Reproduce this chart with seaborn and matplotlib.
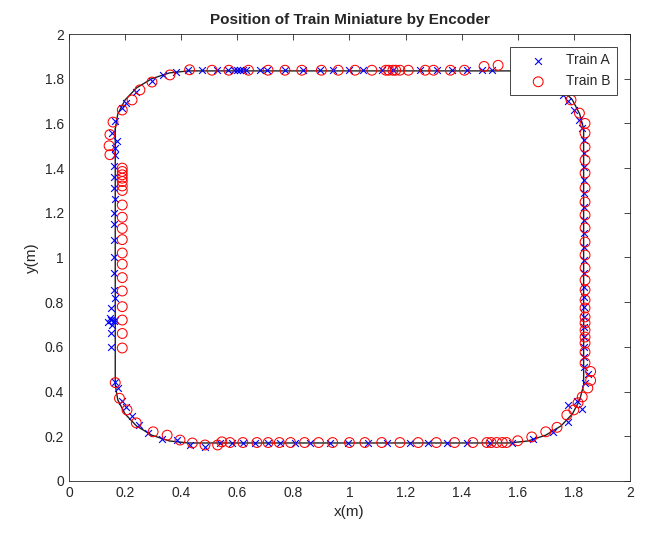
import numpy as np
import pandas as pd
import matplotlib
matplotlib.use("Agg")
import matplotlib.pyplot as plt
from matplotlib.ticker import FormatStrFormatter
import seaborn as sns

# track centre line (rounded rectangle), waypoints in metres
track_x = [0.165, 0.174, 0.200, 0.241, 0.295, 0.358, 0.425,
           1.570, 1.637, 1.700, 1.754, 1.795, 1.821, 1.835,
           1.835, 1.821, 1.795, 1.754, 1.700, 1.637, 1.570,
           0.425, 0.358, 0.295, 0.241, 0.200, 0.174, 0.165, 0.165]
track_y = [1.575, 1.642, 1.705, 1.759, 1.800, 1.826, 1.835,
           1.835, 1.826, 1.800, 1.759, 1.705, 1.642, 1.575,
           0.430, 0.363, 0.300, 0.246, 0.205, 0.179, 0.170,
           0.170, 0.179, 0.205, 0.246, 0.300, 0.363, 0.430, 1.575]

# Train A (encoder positions)
train_a_x = [
    # left side
    0.164, 0.170, 0.153, 0.165, 0.165, 0.160, 0.160, 0.160, 0.165, 0.160,
    0.160, 0.160, 0.160, 0.160, 0.160, 0.165, 0.150, 0.145, 0.150, 0.160,
    0.140, 0.155, 0.165, 0.150, 0.150, 0.165, 0.175,
    # bottom-left corner
    0.190, 0.205, 0.225, 0.250, 0.280, 0.330, 0.385, 0.430, 0.485, 0.540,
    # bottom
    0.580, 0.620, 0.663, 0.710, 0.752, 0.806, 0.860, 0.930, 0.995, 1.066,
    1.134, 1.216, 1.280, 1.348, 1.420, 1.500, 1.580,
    # bottom-right corner
    1.655, 1.725, 1.780, 1.780, 1.810, 1.830, 1.840, 1.850,
    # right side
    1.835, 1.835, 1.835, 1.835, 1.835, 1.835, 1.835, 1.835, 1.835, 1.835,
    1.835, 1.835, 1.835, 1.835, 1.835, 1.835, 1.835, 1.835, 1.835, 1.835,
    1.830,
    # top-right corner
    1.820, 1.800, 1.780, 1.760,
    # top
    1.508, 1.472, 1.419, 1.365, 1.312, 1.251, 1.155, 1.116, 1.048, 1.000,
    0.940, 0.895, 0.834, 0.770, 0.706, 0.680, 0.630, 0.620, 0.610, 0.600,
    0.590, 0.567, 0.527, 0.474, 0.424, 0.380,
    # top-left corner
    0.335, 0.296, 0.240, 0.205, 0.190,
]
train_a_y = [
    1.610, 1.520, 1.557, 1.490, 1.460, 1.410, 1.360, 1.310, 1.260, 1.200,
    1.150, 1.080, 1.000, 0.930, 0.855, 0.820, 0.775, 0.730, 0.720, 0.715,
    0.710, 0.700, 0.720, 0.660, 0.600, 0.445, 0.415,
    0.360, 0.330, 0.290, 0.250, 0.215, 0.190, 0.185, 0.160, 0.152, 0.170,
    0.172, 0.172, 0.172, 0.172, 0.172, 0.172, 0.172, 0.172, 0.172, 0.172,
    0.172, 0.172, 0.172, 0.172, 0.172, 0.172, 0.172,
    0.190, 0.220, 0.265, 0.340, 0.360, 0.320, 0.440, 0.480,
    0.510, 0.555, 0.600, 0.644, 0.689, 0.734, 0.779, 0.823, 0.868, 0.930,
    0.989, 1.047, 1.110, 1.168, 1.226, 1.289, 1.347, 1.405, 1.467, 1.526,
    1.580,
    1.615, 1.660, 1.700, 1.727,
    1.838, 1.838, 1.838, 1.838, 1.838, 1.838, 1.838, 1.838, 1.838, 1.838,
    1.838, 1.838, 1.838, 1.838, 1.838, 1.838, 1.838, 1.838, 1.838, 1.838,
    1.838, 1.838, 1.838, 1.838, 1.838, 1.830,
    1.817, 1.790, 1.740, 1.690, 1.670,
]

# Train B (encoder positions)
train_b_x = [
    # top-left corner
    0.430, 0.360, 0.296, 0.253, 0.225, 0.190, 0.157, 0.146, 0.143, 0.146,
    # left side (offset)
    0.190, 0.190, 0.190, 0.190, 0.190, 0.190, 0.190, 0.190, 0.190, 0.190,
    0.190, 0.190, 0.190, 0.190, 0.190, 0.190, 0.190, 0.190, 0.190,
    # bottom-left corner
    0.165, 0.180, 0.207, 0.240, 0.300, 0.350, 0.396, 0.440, 0.485, 0.530,
    0.545,
    # bottom
    0.574, 0.620, 0.670, 0.710, 0.750, 0.790, 0.840, 0.890, 0.940, 1.000,
    1.055, 1.115, 1.180, 1.245, 1.310, 1.375, 1.440, 1.490, 1.505, 1.525,
    1.545, 1.560,
    # bottom-right corner
    1.600, 1.650, 1.700, 1.740, 1.775, 1.800, 1.815, 1.830, 1.850, 1.860,
    1.860,
    # right side
    1.840, 1.840, 1.840, 1.840, 1.840, 1.840, 1.840, 1.840, 1.840, 1.840,
    1.840, 1.840, 1.840, 1.840, 1.840, 1.840, 1.840, 1.840, 1.840, 1.840,
    1.840, 1.840,
    # top-right corner
    1.840, 1.820, 1.790,
    # top
    1.530, 1.480, 1.410, 1.360, 1.300, 1.270, 1.210, 1.180, 1.165, 1.155,
    1.140, 1.130, 1.080, 1.020, 0.960, 0.900, 0.830, 0.770, 0.710, 0.640,
    0.570, 0.510,
]
train_b_y = [
    1.840, 1.817, 1.785, 1.750, 1.705, 1.660, 1.606, 1.550, 1.500, 1.460,
    1.400, 1.385, 1.370, 1.355, 1.340, 1.320, 1.300, 1.235, 1.180, 1.130,
    1.080, 1.020, 0.970, 0.910, 0.850, 0.780, 0.720, 0.660, 0.595,
    0.440, 0.370, 0.318, 0.260, 0.220, 0.205, 0.183, 0.170, 0.161, 0.161,
    0.175,
    0.172, 0.172, 0.172, 0.172, 0.172, 0.172, 0.172, 0.172, 0.172, 0.172,
    0.172, 0.172, 0.172, 0.172, 0.172, 0.172, 0.172, 0.172, 0.172, 0.172,
    0.172, 0.172,
    0.180, 0.197, 0.220, 0.240, 0.295, 0.318, 0.350, 0.376, 0.416, 0.450,
    0.490,
    0.528, 0.577, 0.617, 0.644, 0.675, 0.707, 0.734, 0.774, 0.810, 0.855,
    0.899, 0.953, 1.011, 1.069, 1.132, 1.190, 1.248, 1.311, 1.378, 1.436,
    1.494, 1.557,
    1.600, 1.646, 1.705,
    1.860, 1.855, 1.838, 1.838, 1.838, 1.838, 1.838, 1.838, 1.838, 1.838,
    1.838, 1.838, 1.838, 1.838, 1.838, 1.838, 1.838, 1.838, 1.838, 1.838,
    1.838, 1.838,
]

ticks = [0, 0.2, 0.4, 0.6, 0.8, 1, 1.2, 1.4, 1.6, 1.8, 2]

track = pd.DataFrame({"x": track_x, "y": track_y})
train_a = pd.DataFrame({"x": train_a_x, "y": train_a_y})
train_b = pd.DataFrame({"x": train_b_x, "y": train_b_y})

sns.set_style("white")
plt.rcParams['font.family'] = ['Liberation Sans', 'DejaVu Sans']

fig = plt.figure(figsize=(6.47, 5.35), dpi=100)
ax = fig.add_axes([0.1066, 0.101, 0.867, 0.8354])

sns.lineplot(data=track, x="x", y="y", sort=False, estimator=None,
             color="#222222", linewidth=1.0, ax=ax)
sns.scatterplot(data=train_a, x="x", y="y", marker="x", color="blue",
                s=24, linewidth=0.8, label="Train A", ax=ax, zorder=3)
sns.scatterplot(data=train_b, x="x", y="y", marker="o", facecolors="none",
                edgecolor="red", s=50, linewidth=0.75, label="Train B",
                ax=ax, zorder=4)

ax.set_xlim(0, 2)
ax.set_ylim(0, 2)
ax.set_xticks(ticks)
ax.set_yticks(ticks)
ax.xaxis.set_major_formatter(FormatStrFormatter('%g'))
ax.yaxis.set_major_formatter(FormatStrFormatter('%g'))
ax.tick_params(direction="in", top=True, right=True, length=4,
               width=0.6, colors="#262626", labelsize=10)
for s in ax.spines.values():
    s.set_color("#262626")
    s.set_linewidth(0.6)

ax.set_xlabel("x(m)", fontsize=11, color="#262626")
ax.set_ylabel("y(m)", fontsize=11, color="#262626")
ax.set_title("Position of Train Miniature by Encoder", fontsize=11,
             fontweight="bold", pad=7)

leg = ax.legend(loc="upper right", fancybox=False, framealpha=1,
                edgecolor="#262626", fontsize=10, borderaxespad=0.9,
                handlelength=3.0, handletextpad=0.5, borderpad=0.5,
                labelspacing=0.5)
leg.get_frame().set_linewidth(0.6)

fig.savefig("out.png", dpi=100)
